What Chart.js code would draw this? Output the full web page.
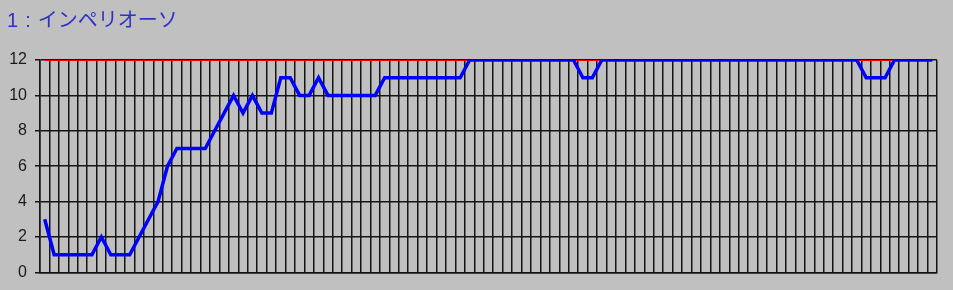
<!DOCTYPE html>
<html lang="ja">
<head>
<meta charset="utf-8">
<script src="https://cdn.jsdelivr.net/npm/chart.js@4"></script>
<style>
html,body{margin:0;padding:0;background:#c0c0c0;}
#wrap{width:953px;height:290px;position:relative;}
#title{position:absolute;left:7px;top:6px;font:20px/28px "Liberation Sans","Noto Sans CJK JP",sans-serif;color:#3030c8;white-space:pre;word-spacing:1.5px;}
canvas{position:absolute;left:0;top:0;}
</style>
</head>
<body>
<div id="wrap"><canvas id="c" width="953" height="290"></canvas><div id="title" lang="ja"></div></div>
<script>
const titleText = "1 : インペリオーソ";
const categories = Array.from({length: 95}, (_, i) => String(i + 1));
const rankSeries = [
  3, 1, 1, 1, 1, 1, 2, 1, 1, 1,
  2, 3, 4, 6, 7, 7, 7, 7, 8, 9,
  10, 9, 10, 9, 9, 11, 11, 10, 10, 11,
  10, 10, 10, 10, 10, 10, 11, 11, 11, 11,
  11, 11, 11, 11, 11, 12, 12, 12, 12, 12,
  12, 12, 12, 12, 12, 12, 12, 11, 11, 12,
  12, 12, 12, 12, 12, 12, 12, 12, 12, 12,
  12, 12, 12, 12, 12, 12, 12, 12, 12, 12,
  12, 12, 12, 12, 12, 12, 12, 11, 11, 11,
  12, 12, 12, 12, 12
];
const fieldSeries = [
  12, 12, 12, 12, 12, 12, 12, 12, 12, 12,
  12, 12, 12, 12, 12, 12, 12, 12, 12, 12,
  12, 12, 12, 12, 12, 12, 12, 12, 12, 12,
  12, 12, 12, 12, 12, 12, 12, 12, 12, 12,
  12, 12, 12, 12, 12, 12, 12, 12, 12, 12,
  12, 12, 12, 12, 12, 12, 12, 12, 12, 12,
  12, 12, 12, 12, 12, 12, 12, 12, 12, 12,
  12, 12, 12, 12, 12, 12, 12, 12, 12, 12,
  12, 12, 12, 12, 12, 12, 12, 12, 12, 12,
  12, 12, 12, 12, 12
];
const yTicks = [0, 2, 4, 6, 8, 10, 12];

document.getElementById('title').textContent = titleText;

const bgPlugin = {
  id: 'bg',
  beforeDraw(chart) {
    const ctx = chart.ctx;
    ctx.save();
    ctx.fillStyle = '#c0c0c0';
    ctx.fillRect(0, 0, chart.width, chart.height);
    ctx.restore();
  }
};

const gridColor = '#151515';

new Chart(document.getElementById('c'), {
  type: 'line',
  data: {
    labels: categories,
    datasets: [
      {
        data: rankSeries,
        borderColor: '#0000ff',
        borderWidth: 3.5,
        pointRadius: 0,
        tension: 0,
        fill: false,
        clip: 0,
        order: 0
      },
      {
        data: fieldSeries,
        borderColor: '#ff0000',
        borderWidth: 2,
        pointRadius: 0,
        tension: 0,
        fill: false,
        clip: 0,
        order: 1
      }
    ]
  },
  options: {
    responsive: false,
    animation: false,
    devicePixelRatio: 1,
    layout: { padding: { left: 8, top: 60, right: 16, bottom: 12 } },
    plugins: {
      legend: { display: false },
      tooltip: { enabled: false },
      title: { display: false }
    },
    scales: {
      x: {
        type: 'category',
        offset: true,
        grid: { offset: true, color: gridColor, lineWidth: 1.5, drawTicks: false },
        border: { display: true, color: gridColor, width: 1.5 },
        ticks: { display: false },
        afterFit(scale) { scale.height = 0; }
      },
      y: {
        min: 0,
        max: 12,
        afterBuildTicks(scale) { scale.ticks = yTicks.map(v => ({ value: v })); },
        ticks: {
          padding: 8,
          color: '#1a1a1a',
          font: { family: '"Liberation Sans", Arial, sans-serif', size: 16 }
        },
        grid: { color: gridColor, lineWidth: 1.5, tickLength: 5, drawTicks: true },
        border: { display: true, color: gridColor, width: 1.5 },
        afterFit(scale) { scale.width = 32; }
      }
    }
  },
  plugins: [bgPlugin]
});
</script>
</body>
</html>
